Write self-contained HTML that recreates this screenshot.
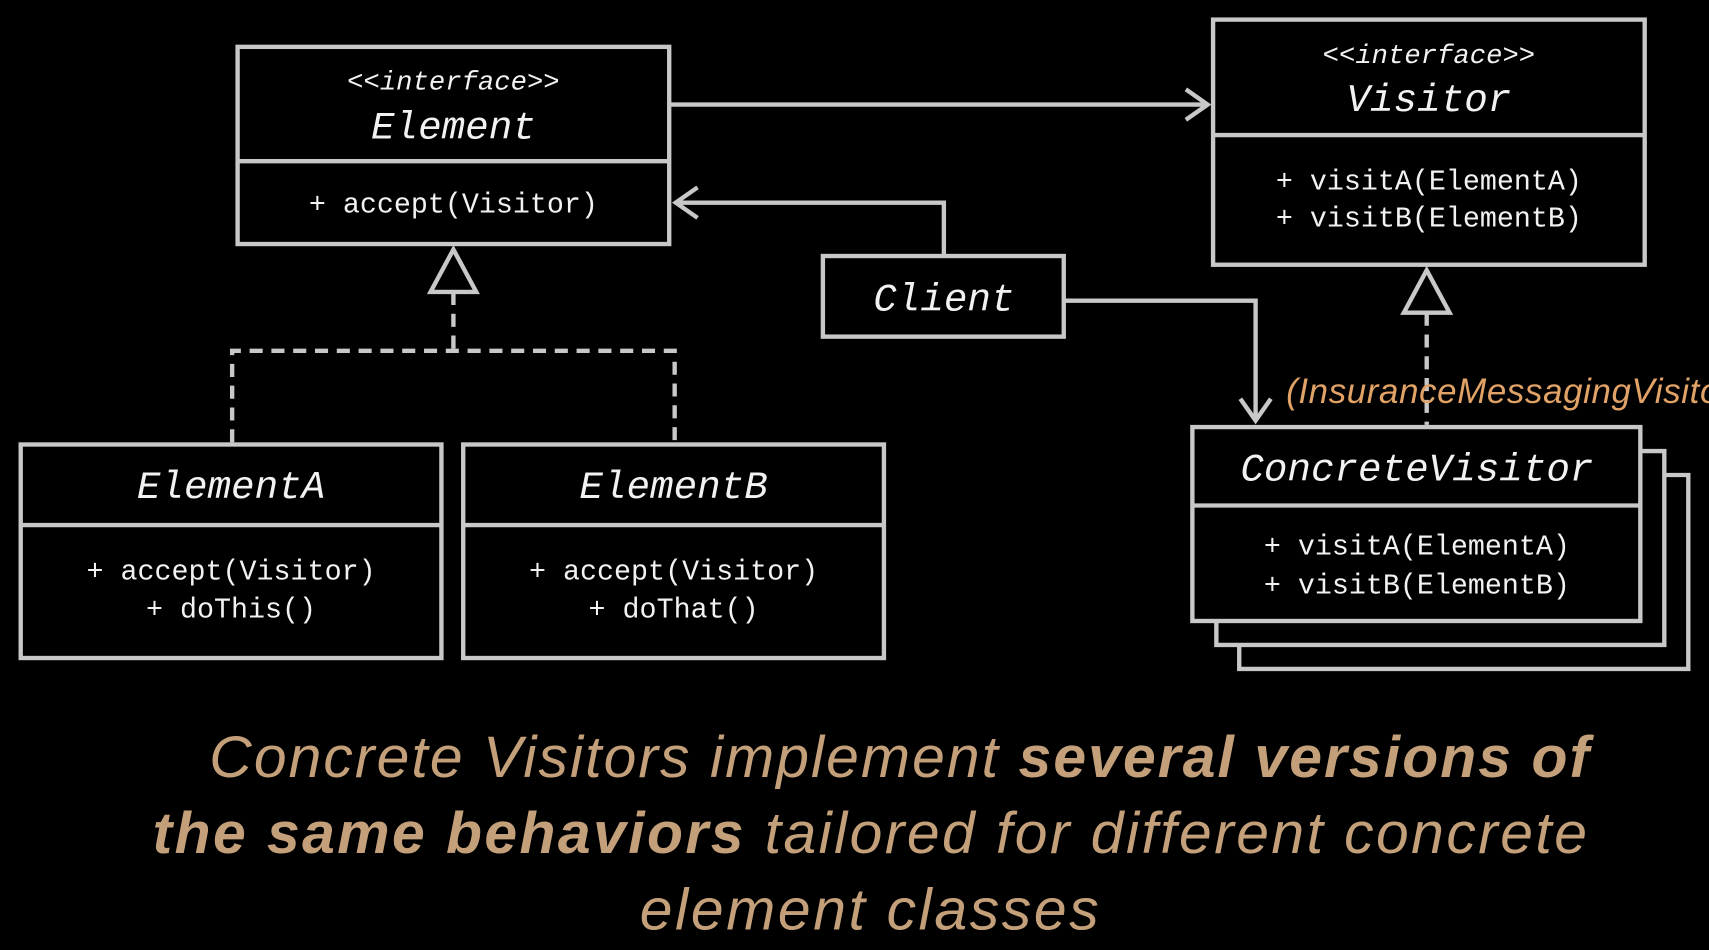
<!DOCTYPE html>
<html><head><meta charset="utf-8"><style>
html,body{margin:0;padding:0;background:#000;width:1709px;height:950px;overflow:hidden}
svg{display:block}
.m{font-family:"Liberation Mono","DejaVu Sans Mono",monospace;fill:#f2f2f2}
.cap{font-family:"Liberation Sans",sans-serif;font-style:italic;fill:#c4a07a;font-size:54px}
</style></head><body>
<svg width="1709" height="950" viewBox="0 0 1568 872" preserveAspectRatio="none">
<g fill="none" stroke="#c8c8c8" stroke-width="4">
<rect x="218" y="43" width="396" height="181"/><line x1="218" y1="148" x2="614" y2="148"/>
<rect x="1113" y="18" width="396" height="225"/><line x1="1113" y1="124" x2="1509" y2="124"/>
<rect x="755" y="235" width="221" height="74"/>
<rect x="19" y="408" width="386" height="196"/><line x1="19" y1="482" x2="405" y2="482"/>
<rect x="425" y="408" width="386" height="196"/><line x1="425" y1="482" x2="811" y2="482"/>
<polyline points="1137,592 1137,614 1549,614 1549,436 1527,436"/>
<polyline points="1116,570 1116,592 1527,592 1527,414 1505,414"/>
<rect x="1094" y="392" width="411" height="178" fill="#000"/><line x1="1094" y1="464" x2="1505" y2="464"/>
<line x1="614" y1="96" x2="1108" y2="96"/><polyline points="1088,82 1108,96 1088,110"/>
<polyline points="866,235 866,186 620,186"/><polyline points="640,172 620,186 640,200"/>
<polyline points="977,276 1152,276 1152,386"/><polyline points="1138,366 1152,386 1166,366"/>
<polygon points="416,229 395,268 437,268"/>
<g stroke-dasharray="12,8"><polyline points="416,268 416,322"/><polyline points="213,406 213,322 619,322 619,406"/></g>
<polygon points="1309,248 1288,287 1330,287"/>
<line x1="1309" y1="287" x2="1309" y2="390" stroke-dasharray="12,8"/>
</g>
<g class="m" text-anchor="middle">
<text x="416" y="82" font-size="25" font-style="italic">&lt;&lt;interface&gt;&gt;</text>
<text x="416" y="127" font-size="36" font-style="italic">Element</text>
<text x="416" y="195" font-size="26">+ accept(Visitor)</text>
<text x="1311" y="58" font-size="25" font-style="italic">&lt;&lt;interface&gt;&gt;</text>
<text x="1311" y="102" font-size="36" font-style="italic">Visitor</text>
<text x="1311" y="174" font-size="26">+ visitA(ElementA)</text>
<text x="1311" y="208" font-size="26">+ visitB(ElementB)</text>
<text x="866" y="285" font-size="36" font-style="italic">Client</text>
<text x="212" y="457" font-size="36" font-style="italic">ElementA</text>
<text x="212" y="532" font-size="26">+ accept(Visitor)</text>
<text x="212" y="567" font-size="26">+ doThis()</text>
<text x="618" y="457" font-size="36" font-style="italic">ElementB</text>
<text x="618" y="532" font-size="26">+ accept(Visitor)</text>
<text x="618" y="567" font-size="26">+ doThat()</text>
<text x="1300" y="441" font-size="36" font-style="italic">ConcreteVisitor</text>
<text x="1300" y="509" font-size="26">+ visitA(ElementA)</text>
<text x="1300" y="545" font-size="26">+ visitB(ElementB)</text>
</g>
<text x="1180" y="370" font-family="Liberation Sans,sans-serif" font-style="italic" font-size="32" fill="#e0a266" textLength="420" lengthAdjust="spacing">(InsuranceMessagingVisitor)</text>
<text class="cap" x="192" y="713" textLength="1266" lengthAdjust="spacing">Concrete Visitors implement <tspan font-weight="bold">several versions of</tspan></text>
<text class="cap" x="140" y="783" textLength="1316" lengthAdjust="spacing"><tspan font-weight="bold">the same behaviors</tspan> tailored for different concrete</text>
<text class="cap" x="587" y="853" textLength="421" lengthAdjust="spacing">element classes</text>
</svg>
</body></html>
